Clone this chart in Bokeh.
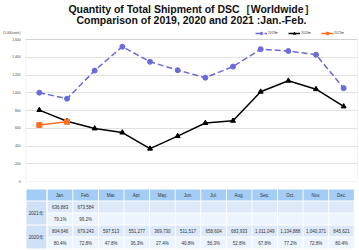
from bokeh.plotting import figure
from bokeh.layouts import column
from bokeh.models import (Legend, LegendItem, FixedTicker, BoxAnnotation,
                          NumeralTickFormatter, Range1d, FactorRange)
from bokeh.core.properties import value
from bokeh.embed import file_html
from bokeh.resources import INLINE

# ---------------- data ----------------
months = ["Jan.", "Feb.", "Mar.", "Apr.", "May.", "Jun.", "Jul.", "Aug.", "Sep.", "Oct.", "Nov.", "Dec."]
s2019 = [1001, 933, 1250, 1519, 1349, 1254, 1170, 1295, 1491, 1470, 1429, 1052]
s2020 = [804.646, 679.243, 597.513, 551.277, 369.730, 511.517, 658.604, 683.933, 1011.049, 1134.888, 1040.371, 845.621]
s2021 = [636.883, 673.584]
t2021_units = ["636,883", "673,584", "", "", "", "", "", "", "", "", "", ""]
t2021_pct = ["79.1%", "99.2%", "", "", "", "", "", "", "", "", "", ""]
t2020_units = ["804,646", "679,243", "597,513", "551,277", "369,730", "511,517", "658,604",
               "683,933", "1,011,049", "1,134,888", "1,040,371", "845,621"]
t2020_pct = ["80.4%", "72.8%", "47.8%", "36.3%", "27.4%", "40.8%", "56.3%", "52.8%",
             "67.8%", "77.2%", "72.8%", "80.4%"]
row_labels = ["2021年", "2020年"]
series_names = ["2019年", "2020年", "2021年"]
title1 = "Quantity of Total Shipment of DSC［Worldwide］"
title2 = "Comparison of 2019, 2020 and 2021 :Jan.-Feb."
units_text = "(1,000units)"
yticks = [0, 200, 400, 600, 800, 1000, 1200, 1400, 1600]
y_max = 1600

W = 359
FONT = "Liberation Sans"
SMALL = "3.3px"

# ---------------- header (titles) ----------------
hdr = figure(width=W, height=26, x_range=Range1d(0, W), y_range=Range1d(26, 0),
             output_backend="svg", toolbar_location=None, min_border=0)
hdr.axis.visible = False
hdr.grid.visible = False
hdr.outline_line_color = None
hdr.text(x=[W / 2, W / 2], y=[8.5, 19.5], text=[title1, title2], text_align="center",
         text_baseline="middle", text_font=value(FONT), text_font_size="10.5px",
         text_font_style="bold", text_color="#111111")

# ---------------- main chart ----------------
# frame spans abs y 26..181; the value box 0..1600 occupies its lower 142 px
MAIN_H, TOP_B, BOT_B = 160, 0, 5
frame_h = MAIN_H - TOP_B - BOT_B
box_h = 142
y_top = y_max * frame_h / box_h
units_tick = round(y_max * (box_h + 6) / box_h)

p = figure(width=W, height=MAIN_H, x_range=FactorRange(*months), y_range=Range1d(0, y_top),
           output_backend="svg", toolbar_location=None,
           min_border_left=25, min_border_right=2, min_border_top=TOP_B, min_border_bottom=BOT_B)
p.xaxis.visible = False
p.xgrid.grid_line_color = None
p.ygrid.ticker = FixedTicker(ticks=yticks)
p.ygrid.grid_line_color = "#d9d9d9"
p.ygrid.grid_line_width = 0.8
p.outline_line_color = None
p.add_layout(BoxAnnotation(bottom=0, top=y_max, fill_alpha=0, line_color="#b0b0b0", line_width=1.2,
                           level="underlay"))
p.yaxis.ticker = FixedTicker(ticks=yticks + [units_tick])
p.yaxis.formatter = NumeralTickFormatter(format="0,0")
p.yaxis.major_label_overrides = {units_tick: units_text}
p.yaxis.axis_line_color = None
p.yaxis.major_tick_line_color = None
p.yaxis.minor_tick_line_color = None
p.yaxis.major_tick_out = 0
p.yaxis.major_tick_in = 0
p.yaxis.minor_tick_out = 0
p.yaxis.minor_tick_in = 0
p.yaxis.axis_label_standoff = 0
p.yaxis.major_label_text_font_size = SMALL
p.yaxis.major_label_text_font = FONT
p.yaxis.major_label_text_color = "#444444"
p.yaxis.major_label_standoff = 5

c19, c20, c21 = "#6a6ad8", "#000000", "#ff6e1e"
l19 = p.line(months, s2019, line_color=c19, line_width=1.5, line_dash="6 3")
m19 = p.scatter(months, s2019, marker="circle", size=5, fill_color=c19, line_color=c19)
l20 = p.line(months, s2020, line_color=c20, line_width=1.5)
m20 = p.scatter(months, s2020, marker="triangle", size=5, fill_color=c20, line_color=c20)
l21 = p.line(months[:2], s2021, line_color=c21, line_width=1.5)
m21 = p.scatter(months[:2], s2021, marker="square", size=5, fill_color=c21, line_color=c21)

legend = Legend(items=[LegendItem(label=series_names[0], renderers=[l19, m19]),
                       LegendItem(label=series_names[1], renderers=[l20, m20]),
                       LegendItem(label=series_names[2], renderers=[l21, m21])],
                location=(230, box_h + 3), orientation="horizontal", padding=0, margin=0,
                spacing=8, glyph_width=12, glyph_height=6, label_standoff=1,
                label_text_font_size=SMALL, label_text_font=FONT, label_height=6, label_width=12,
                label_text_color="#444444",
                background_fill_alpha=0, border_line_color=None)
p.add_layout(legend, "center")

# ---------------- table ----------------
tb = figure(width=W, height=64, x_range=Range1d(0, W), y_range=Range1d(64, 0),
            output_backend="svg", toolbar_location=None, min_border=0)
tb.axis.visible = False
tb.grid.visible = False
tb.outline_line_color = None

col_w = 27.67
x0 = 23.5
hdr_top, hdr_h = 3, 11
row_top0, row_h = 15, 12

lefts, rights, tops, bottoms, colors = [], [], [], [], []
tx, ty, tt = [], [], []

# header row
lefts.append(1); rights.append(22.5); tops.append(hdr_top); bottoms.append(hdr_top + hdr_h); colors.append("#a4cdf6")
for i, m in enumerate(months):
    l = x0 + col_w * i + 0.5
    lefts.append(l); rights.append(l + col_w - 1); tops.append(hdr_top); bottoms.append(hdr_top + hdr_h)
    colors.append("#a4cdf6")
    tx.append(l + (col_w - 1) / 2); ty.append(hdr_top + hdr_h / 2); tt.append(m)

rows = [t2021_units, t2021_pct, t2020_units, t2020_pct]
for r, vals in enumerate(rows):
    top = row_top0 + row_h * r
    col = "#dde9f9" if r % 2 == 0 else "#ecf4fd"
    for i, v in enumerate(vals):
        l = x0 + col_w * i + 0.5
        lefts.append(l); rights.append(l + col_w - 1); tops.append(top); bottoms.append(top + row_h - 1)
        colors.append(col)
        tx.append(l + (col_w - 1) / 2); ty.append(top + (row_h - 1) / 2); tt.append(v)

for k, lab in enumerate(row_labels):
    top = row_top0 + 2 * row_h * k
    lefts.append(1); rights.append(22.5); tops.append(top); bottoms.append(top + 2 * row_h - 1)
    colors.append("#cfe1f7")
    tx.append(11.75); ty.append(top + (2 * row_h - 1) / 2); tt.append(lab)

tb.quad(left=lefts, right=rights, top=tops, bottom=bottoms, fill_color=colors, line_color=None)
tb.text(x=tx, y=ty, text=tt, text_align="center", text_baseline="middle",
        text_font=value(FONT), text_font_size="4.5px", text_color="#333333")

layout = column(hdr, p, tb, spacing=0)
open("out.html", "w").write(file_html(layout, INLINE))
